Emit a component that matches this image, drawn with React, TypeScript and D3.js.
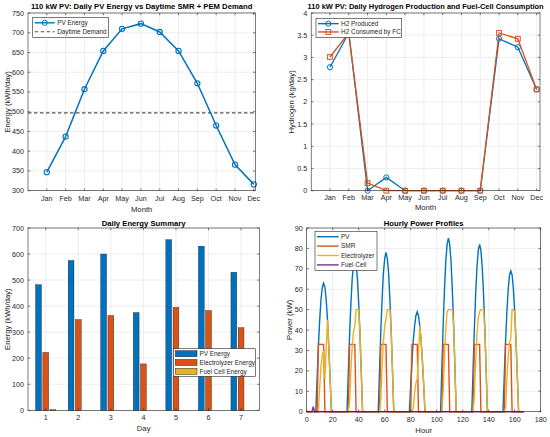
import React from "react";
import * as d3 from "d3";

// ---- monthly panels ----
const months = ["Jan", "Feb", "Mar", "Apr", "May", "Jun", "Jul", "Aug", "Sep", "Oct", "Nov", "Dec"];
const pvMonthly = [347, 437, 557, 654, 710, 723, 702, 654, 572, 465, 366, 316];
const daytimeDemand = 497;
const h2Produced = [2.78, 3.55, 0, 0.3, 0, 0, 0, 0, 0, 3.42, 3.23, 2.28];
const h2Consumed = [3.01, 3.55, 0.17, 0, 0, 0, 0, 0, 0, 3.55, 3.42, 2.28];

// ---- daily summary ----
const days = [1, 2, 3, 4, 5, 6, 7];
const pvDaily = [482, 575, 600, 375, 655, 630, 530];
const elecDaily = [222, 348, 364, 178, 395, 383, 317];
const fcDaily = [3, 0, 0, 0, 0, 0, 0];

// ---- hourly profiles (one row per day, 24 h each) ----
const pvHourly = [
  [0, 0, 0, 0, 0, 0, 0, 0, 16, 32, 45, 55, 61, 63, 61, 55, 45, 32, 16, 0, 0, 0, 0, 0],
  [0, 0, 0, 0, 0, 0, 0, 0, 19, 38, 53, 65, 72, 75, 72, 65, 53, 38, 19, 0, 0, 0, 0, 0],
  [0, 0, 0, 0, 0, 0, 0, 0, 20, 39, 55, 68, 75, 78, 75, 68, 55, 39, 20, 0, 0, 0, 0, 0],
  [0, 0, 0, 0, 0, 0, 0, 0, 13, 25, 35, 42, 47, 49, 47, 42, 35, 25, 13, 0, 0, 0, 0, 0],
  [0, 0, 0, 0, 0, 0, 0, 0, 22, 43, 60, 74, 82, 85, 82, 74, 60, 43, 22, 0, 0, 0, 0, 0],
  [0, 0, 0, 0, 0, 0, 0, 0, 21, 41, 58, 71, 79, 82, 79, 71, 58, 41, 21, 0, 0, 0, 0, 0],
  [0, 0, 0, 0, 0, 0, 0, 0, 18, 35, 49, 60, 67, 69, 67, 60, 49, 35, 18, 0, 0, 0, 0, 0],
];
const smrHourly = [
  [0, 0, 0, 0, 0, 0, 0, 0, 0, 33, 33, 33, 33, 33, 0, 0, 0, 0, 0, 0, 0, 0, 0, 0],
  [0, 0, 0, 0, 0, 0, 0, 0, 0, 33, 33, 33, 33, 33, 0, 0, 0, 0, 0, 0, 0, 0, 0, 0],
  [0, 0, 0, 0, 0, 0, 0, 0, 0, 33, 33, 33, 33, 33, 0, 0, 0, 0, 0, 0, 0, 0, 0, 0],
  [0, 0, 0, 0, 0, 0, 0, 0, 0, 33, 33, 33, 33, 33, 0, 0, 0, 0, 0, 0, 0, 0, 0, 0],
  [0, 0, 0, 0, 0, 0, 0, 0, 0, 33, 33, 33, 33, 33, 0, 0, 0, 0, 0, 0, 0, 0, 0, 0],
  [0, 0, 0, 0, 0, 0, 0, 0, 0, 33, 33, 33, 33, 33, 0, 0, 0, 0, 0, 0, 0, 0, 0, 0],
  [0, 0, 0, 0, 0, 0, 0, 0, 0, 33, 33, 33, 33, 33, 0, 0, 0, 0, 0, 0, 0, 0, 0, 0],
];
const elecHourly = [
  [0, 0, 0, 0, 0, 0, 0, 0, 0, 0, 12, 22, 28, 30, 16, 31, 45, 32, 16, 0, 0, 0, 0, 0],
  [0, 0, 0, 0, 0, 0, 0, 0, 0, 5, 20, 32, 39, 42, 50, 50, 50, 38, 19, 0, 0, 0, 0, 0],
  [0, 0, 0, 0, 0, 0, 0, 0, 0, 6, 22, 35, 42, 45, 50, 50, 50, 39, 20, 0, 0, 0, 0, 0],
  [0, 0, 0, 0, 0, 0, 0, 0, 0, 0, 2, 9, 14, 16, 28, 42, 35, 25, 13, 0, 0, 0, 0, 0],
  [0, 0, 0, 0, 0, 0, 0, 0, 0, 10, 27, 41, 49, 50, 50, 50, 50, 43, 22, 0, 0, 0, 0, 0],
  [0, 0, 0, 0, 0, 0, 0, 0, 0, 8, 25, 38, 46, 49, 50, 50, 50, 41, 21, 0, 0, 0, 0, 0],
  [0, 0, 0, 0, 0, 0, 0, 0, 0, 2, 16, 27, 34, 36, 50, 50, 49, 35, 18, 0, 0, 0, 0, 0],
];
const fcHourly = [
  [0, 0, 0, 0, 0, 2.5, 0, 0, 0, 0, 0, 0, 0, 0, 0, 0, 0, 0, 0, 0, 0, 0, 0, 0],
  [0, 0, 0, 0, 0, 0, 0, 0, 0, 0, 0, 0, 0, 0, 0, 0, 0, 0, 0, 0, 0, 0, 0, 0],
  [0, 0, 0, 0, 0, 0, 0, 0, 0, 0, 0, 0, 0, 0, 0, 0, 0, 0, 0, 0, 0, 0, 0, 0],
  [0, 0, 0, 0, 0, 0, 0, 0, 0, 0, 0, 0, 0, 0, 0, 0, 0, 0, 0, 0, 0, 0, 0, 0],
  [0, 0, 0, 0, 0, 0, 0, 0, 0, 0, 0, 0, 0, 0, 0, 0, 0, 0, 0, 0, 0, 0, 0, 0],
  [0, 0, 0, 0, 0, 0, 0, 0, 0, 0, 0, 0, 0, 0, 0, 0, 0, 0, 0, 0, 0, 0, 0, 0],
  [0, 0, 0, 0, 0, 0, 0, 0, 0, 0, 0, 0, 0, 0, 0, 0, 0, 0, 0, 0, 0, 0, 0, 0],
];

const FONT = "'Liberation Sans', Arial, Helvetica, sans-serif";
const AXIS = "#262626";
const GRID = "#e2e2e2";
const BLUE = "#0072BD";
const ORANGE = "#D95319";
const YELLOW = "#EDB120";
const PURPLE = "#7E2F8E";

type Scale = d3.ScaleLinear<number, number>;

function Grid({ x, y, xTicks, yTicks }: { x: Scale; y: Scale; xTicks: number[]; yTicks: number[] }) {
  const [x0, x1] = x.range();
  const [y0, y1] = y.range();
  return (
    <g stroke={GRID} strokeWidth={0.6}>
      {xTicks.map((t) => (
        <line key={"gx" + t} x1={x(t)} x2={x(t)} y1={y0} y2={y1} />
      ))}
      {yTicks.map((t) => (
        <line key={"gy" + t} x1={x0} x2={x1} y1={y(t)} y2={y(t)} />
      ))}
    </g>
  );
}

function AxesBox(props: {
  x: Scale;
  y: Scale;
  xTicks: number[];
  yTicks: number[];
  xFmt: (v: number) => string;
  yFmt: (v: number) => string;
  title: string;
  titleSize?: number;
  xLabel: string;
  yLabel: string;
  titleY: number;
  xTickY: number;
  xLabelY: number;
  yLabelX: number;
}) {
  const { x, y, xTicks, yTicks, xFmt, yFmt } = props;
  const [x0, x1] = x.range();
  const [y0, y1] = y.range();
  const tk = 2.2;
  return (
    <g fontFamily={FONT} fill={AXIS}>
      <rect x={x0} y={y1} width={x1 - x0} height={y0 - y1} fill="none" stroke={AXIS} strokeWidth={0.6} />
      <g stroke={AXIS} strokeWidth={0.6}>
        {xTicks.map((t) => (
          <g key={"tx" + t}>
            <line x1={x(t)} x2={x(t)} y1={y0} y2={y0 - tk} />
            <line x1={x(t)} x2={x(t)} y1={y1} y2={y1 + tk} />
          </g>
        ))}
        {yTicks.map((t) => (
          <g key={"ty" + t}>
            <line x1={x0} x2={x0 + tk} y1={y(t)} y2={y(t)} />
            <line x1={x1} x2={x1 - tk} y1={y(t)} y2={y(t)} />
          </g>
        ))}
      </g>
      {xTicks.map((t) => (
        <text key={"lx" + t} x={x(t)} y={props.xTickY} fontSize={7.2} textAnchor="middle">
          {xFmt(t)}
        </text>
      ))}
      {yTicks.map((t) => (
        <text key={"ly" + t} x={x0 - 4} y={y(t) + 2.5} fontSize={7.2} textAnchor="end">
          {yFmt(t)}
        </text>
      ))}
      <text
        x={(x0 + x1) / 2}
        y={props.titleY}
        fontSize={props.titleSize ?? 7.7}
        fontWeight="bold"
        textAnchor="middle"
        fill="#000"
      >
        {props.title}
      </text>
      <text x={(x0 + x1) / 2} y={props.xLabelY} fontSize={7.7} textAnchor="middle">
        {props.xLabel}
      </text>
      <text
        transform={`translate(${props.yLabelX},${(y0 + y1) / 2}) rotate(-90)`}
        fontSize={7.7}
        textAnchor="middle"
      >
        {props.yLabel}
      </text>
    </g>
  );
}

type LegendItem = { label: string; color: string; kind: "line" | "dash" | "circle" | "square" | "patch" };

function Legend({ x, y, w, h, items, rowH, lineW }: { x: number; y: number; w: number; h: number; items: LegendItem[]; rowH: number; lineW: number }) {
  return (
    <g fontFamily={FONT}>
      <rect x={x} y={y} width={w} height={h} fill="#fff" stroke={AXIS} strokeWidth={0.6} />
      {items.map((it, i) => {
        const cy = y + rowH * (i + 0.5) + (h - rowH * items.length) / 2;
        const lx0 = x + 2;
        const lx1 = x + 2 + lineW;
        const mid = (lx0 + lx1) / 2;
        return (
          <g key={it.label}>
            {it.kind === "patch" ? (
              <rect x={lx0} y={cy - 3} width={lineW} height={6} fill={it.color} stroke={AXIS} strokeWidth={0.5} />
            ) : (
              <line
                x1={lx0}
                x2={lx1}
                y1={cy}
                y2={cy}
                stroke={it.color}
                strokeWidth={it.kind === "dash" ? 1.1 : 1.4}
                strokeDasharray={it.kind === "dash" ? "3.5,2.5" : undefined}
              />
            )}
            {it.kind === "circle" && <circle cx={mid} cy={cy} r={2.6} fill="none" stroke={it.color} strokeWidth={1} />}
            {it.kind === "square" && (
              <rect x={mid - 2.4} y={cy - 2.4} width={4.8} height={4.8} fill="none" stroke={it.color} strokeWidth={1} />
            )}
            <text x={lx1 + 2.5} y={cy + 2.3} fontSize={6.4} fill={AXIS}>
              {it.label}
            </text>
          </g>
        );
      })}
    </g>
  );
}

export default function App() {
  const monthIdx = months.map((_, i) => i + 1);

  // Panel 1
  const x1 = d3.scaleLinear().domain([0, 12.08]).range([28, 255.3]);
  const y1 = d3.scaleLinear().domain([300, 750]).range([190.7, 13]);
  const y1Ticks = d3.range(300, 751, 50);
  const pvLine = d3
    .line<number>()
    .x((_, i) => x1(i + 1))
    .y((d) => y1(d))(pvMonthly) as string;

  // Panel 2
  const x2 = d3.scaleLinear().domain([0, 12.18]).range([311.2, 540]);
  const y2 = d3.scaleLinear().domain([0, 4]).range([190.7, 13]);
  const y2Ticks = d3.range(0, 4.01, 0.5);
  const h2Line = d3
    .line<number>()
    .x((_, i) => x2(i + 1))
    .y((d) => y2(d));

  // Panel 3
  const x3 = d3.scaleLinear().domain([0.455, 7.56]).range([28, 259.3]);
  const y3 = d3.scaleLinear().domain([0, 700]).range([410.3, 228]);
  const y3Ticks = d3.range(0, 701, 100);
  const groupStep = 0.222;
  const barW = x3(groupStep * 0.8) - x3(0);
  const barSeries = [
    { vals: pvDaily, color: BLUE, off: -groupStep },
    { vals: elecDaily, color: ORANGE, off: 0 },
    { vals: fcDaily, color: YELLOW, off: groupStep },
  ];

  // Panel 4
  const x4 = d3.scaleLinear().domain([0, 180]).range([306.7, 540.7]);
  const y4 = d3.scaleLinear().domain([0, 90]).range([411.7, 228]);
  const x4Ticks = d3.range(0, 181, 20);
  const y4Ticks = d3.range(0, 91, 10);
  const hourLine = d3
    .line<number>()
    .x((_, i) => x4(i))
    .y((d) => y4(d));
  const hourly = [
    { vals: pvHourly.flat(), color: BLUE },
    { vals: smrHourly.flat(), color: ORANGE },
    { vals: elecHourly.flat(), color: YELLOW },
    { vals: fcHourly.flat(), color: PURPLE },
  ];

  const intFmt = (v: number) => String(v);

  return (
    <svg
      width={550}
      height={437}
      viewBox="0 0 550 437"
      style={{ position: "absolute", left: 0, top: 0, background: "#fff" }}
    >
      <rect width={550} height={437} fill="#fff" />

      {/* Panel 1: PV energy vs demand */}
      <Grid x={x1} y={y1} xTicks={monthIdx} yTicks={y1Ticks} />
      <line
        x1={x1.range()[0]}
        x2={x1.range()[1]}
        y1={y1(daytimeDemand)}
        y2={y1(daytimeDemand)}
        stroke="#555"
        strokeWidth={1.1}
        strokeDasharray="3.5,2.5"
      />
      <path d={pvLine} fill="none" stroke={BLUE} strokeWidth={1.5} />
      {pvMonthly.map((d, i) => (
        <circle key={i} cx={x1(i + 1)} cy={y1(d)} r={2.6} fill="none" stroke={BLUE} strokeWidth={1.1} />
      ))}
      <AxesBox
        x={x1}
        y={y1}
        xTicks={monthIdx}
        yTicks={y1Ticks}
        xFmt={(v) => months[v - 1]}
        yFmt={intFmt}
        title="110 kW PV: Daily PV Energy vs Daytime SMR + PEM Demand"
        xLabel="Month"
        yLabel="Energy (kWh/day)"
        titleY={8.7}
        xTickY={201.2}
        xLabelY={211.7}
        yLabelX={9.7}
      />
      <Legend
        x={32.7}
        y={17.3}
        w={75.6}
        h={20}
        rowH={9}
        lineW={20}
        items={[
          { label: "PV Energy", color: BLUE, kind: "circle" },
          { label: "Daytime Demand", color: "#555", kind: "dash" },
        ]}
      />

      {/* Panel 2: hydrogen */}
      <Grid x={x2} y={y2} xTicks={monthIdx} yTicks={y2Ticks} />
      <path d={h2Line(h2Produced) as string} fill="none" stroke={BLUE} strokeWidth={1.3} />
      {h2Produced.map((d, i) => (
        <circle key={i} cx={x2(i + 1)} cy={y2(d)} r={2.6} fill="none" stroke={BLUE} strokeWidth={1} />
      ))}
      <path d={h2Line(h2Consumed) as string} fill="none" stroke={ORANGE} strokeWidth={1.3} />
      {h2Consumed.map((d, i) => (
        <rect key={i} x={x2(i + 1) - 2.4} y={y2(d) - 2.4} width={4.8} height={4.8} fill="none" stroke={ORANGE} strokeWidth={1} />
      ))}
      <AxesBox
        x={x2}
        y={y2}
        xTicks={monthIdx}
        yTicks={y2Ticks}
        xFmt={(v) => months[v - 1]}
        yFmt={intFmt}
        title="110 kW PV: Daily Hydrogen Production and Fuel-Cell Consumption"
        titleSize={7.45}
        xLabel="Month"
        yLabel="Hydrogen (kg/day)"
        titleY={8.7}
        xTickY={200.2}
        xLabelY={210}
        yLabelX={294.4}
      />
      <Legend
        x={316}
        y={18.3}
        w={85.7}
        h={19}
        rowH={8.3}
        lineW={20.6}
        items={[
          { label: "H2 Produced", color: BLUE, kind: "circle" },
          { label: "H2 Consumed by FC", color: ORANGE, kind: "square" },
        ]}
      />

      {/* Panel 3: daily energy summary */}
      <Grid x={x3} y={y3} xTicks={days} yTicks={y3Ticks} />
      {barSeries.map((s) =>
        s.vals.map((v, i) => (
          <rect
            key={s.color + i}
            x={x3(days[i] + s.off) - barW / 2}
            y={y3(v)}
            width={barW}
            height={y3(0) - y3(v)}
            fill={s.color}
            stroke="#1a1a1a"
            strokeWidth={0.4}
          />
        ))
      )}
      <AxesBox
        x={x3}
        y={y3}
        xTicks={days}
        yTicks={y3Ticks}
        xFmt={intFmt}
        yFmt={intFmt}
        title="Daily Energy Summary"
        xLabel="Day"
        yLabel="Energy (kWh/day)"
        titleY={226.2}
        xTickY={419.6}
        xLabelY={431.4}
        yLabelX={9.5}
      />
      <Legend
        x={173.3}
        y={348.7}
        w={82}
        h={27.6}
        rowH={8.8}
        lineW={21.7}
        items={[
          { label: "PV Energy", color: BLUE, kind: "patch" },
          { label: "Electrolyzer Energy", color: ORANGE, kind: "patch" },
          { label: "Fuel Cell Energy", color: YELLOW, kind: "patch" },
        ]}
      />

      {/* Panel 4: hourly power profiles */}
      <Grid x={x4} y={y4} xTicks={x4Ticks} yTicks={y4Ticks} />
      {hourly.map((s) => (
        <path key={s.color} d={hourLine(s.vals) as string} fill="none" stroke={s.color} strokeWidth={1.4} />
      ))}
      <AxesBox
        x={x4}
        y={y4}
        xTicks={x4Ticks}
        yTicks={y4Ticks}
        xFmt={intFmt}
        yFmt={intFmt}
        title="Hourly Power Profiles"
        xLabel="Hour"
        yLabel="Power (kW)"
        titleY={225.5}
        xTickY={422.2}
        xLabelY={432.7}
        yLabelX={291.7}
      />
      <Legend
        x={315}
        y={231.3}
        w={62}
        h={39}
        rowH={9.4}
        lineW={21.6}
        items={[
          { label: "PV", color: BLUE, kind: "line" },
          { label: "SMR", color: ORANGE, kind: "line" },
          { label: "Electrolyzer", color: YELLOW, kind: "line" },
          { label: "Fuel Cell", color: PURPLE, kind: "line" },
        ]}
      />
    </svg>
  );
}
